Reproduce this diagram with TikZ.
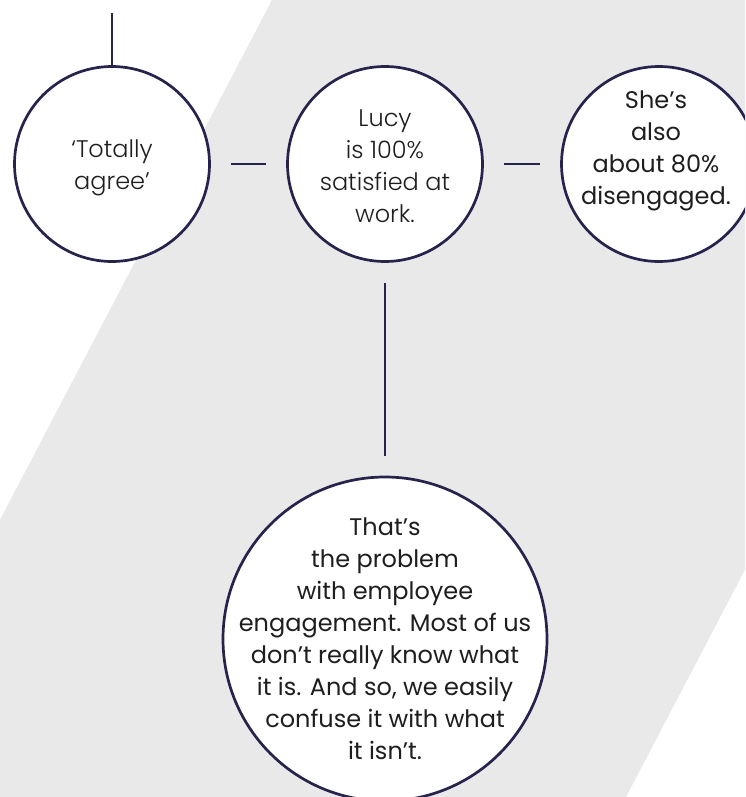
\documentclass[tikz,border=0pt]{standalone}
\usepackage{fontspec}
\setmainfont{Poppins}
\newfontfamily\lightfont{Poppins}[UprightFont=* Light]
\usepackage{xcolor}
\usepackage{tikz}
\usetikzlibrary{shapes,arrows}

\definecolor{bandgrey}{HTML}{E9E9E9}
\definecolor{ringnavy}{RGB}{38,35,76}
\definecolor{inktext}{RGB}{30,30,30}

\begin{document}
\begin{tikzpicture}[x=1pt, y=-1pt,
  ring/.style = {circle, draw=ringnavy, line width=2.7pt, fill=white, inner sep=0pt},
  small/.style = {ring, minimum size=195pt},
  big/.style = {ring, minimum size=324pt},
  words/.style = {text=inktext, align=center, inner sep=0pt, font=\fontsize{24}{32}\selectfont},
  light/.style = {words, font=\lightfont\fontsize{24}{32}\selectfont},
  link/.style = {draw=ringnavy, line width=2.7pt, shorten >=20pt, shorten <=20pt}]
\useasboundingbox (0,0) rectangle (745,797);
\clip (0,0) rectangle (745,797);
\fill[white] (0,0) rectangle (745,797);
% grey band behind the circles
\fill[bandgrey] (272,0) -- (1043,0) -- (626,797) -- (-145,797) -- cycle;

\node[small] (agree) at (112,164) {};
\node[light, yshift=-4pt] (agreetext) at (agree) {‘Totally\\agree’};
\node[small] (lucy) at (385,164) {};
\node[light, yshift=-2pt] (lucytext) at (lucy) {Lucy\\is 100\%\\satisfied at\\work.};
\node[small] (also) at (659,164) {};
\node[words, xshift=-3pt, yshift=13pt] (alsotext) at (also) {She’s\\also\\about 80\%\\disengaged.};
\node[big] (problem) at (385,639) {};
\node[words] (problemtext) at (problem) {That’s\\the problem\\with employee\\engagement. Most of us\\don’t really know what\\it is. And so, we easily\\confuse it with what\\it isn’t.};

\coordinate (top) at (112,13);
\draw[ringnavy, line width=2.7pt] (top) -- (agree);
\draw[link] (agree) -- (lucy);
\draw[link] (lucy) -- (also);
\draw[link] (lucy) -- (problem);

\end{tikzpicture}
\end{document}
